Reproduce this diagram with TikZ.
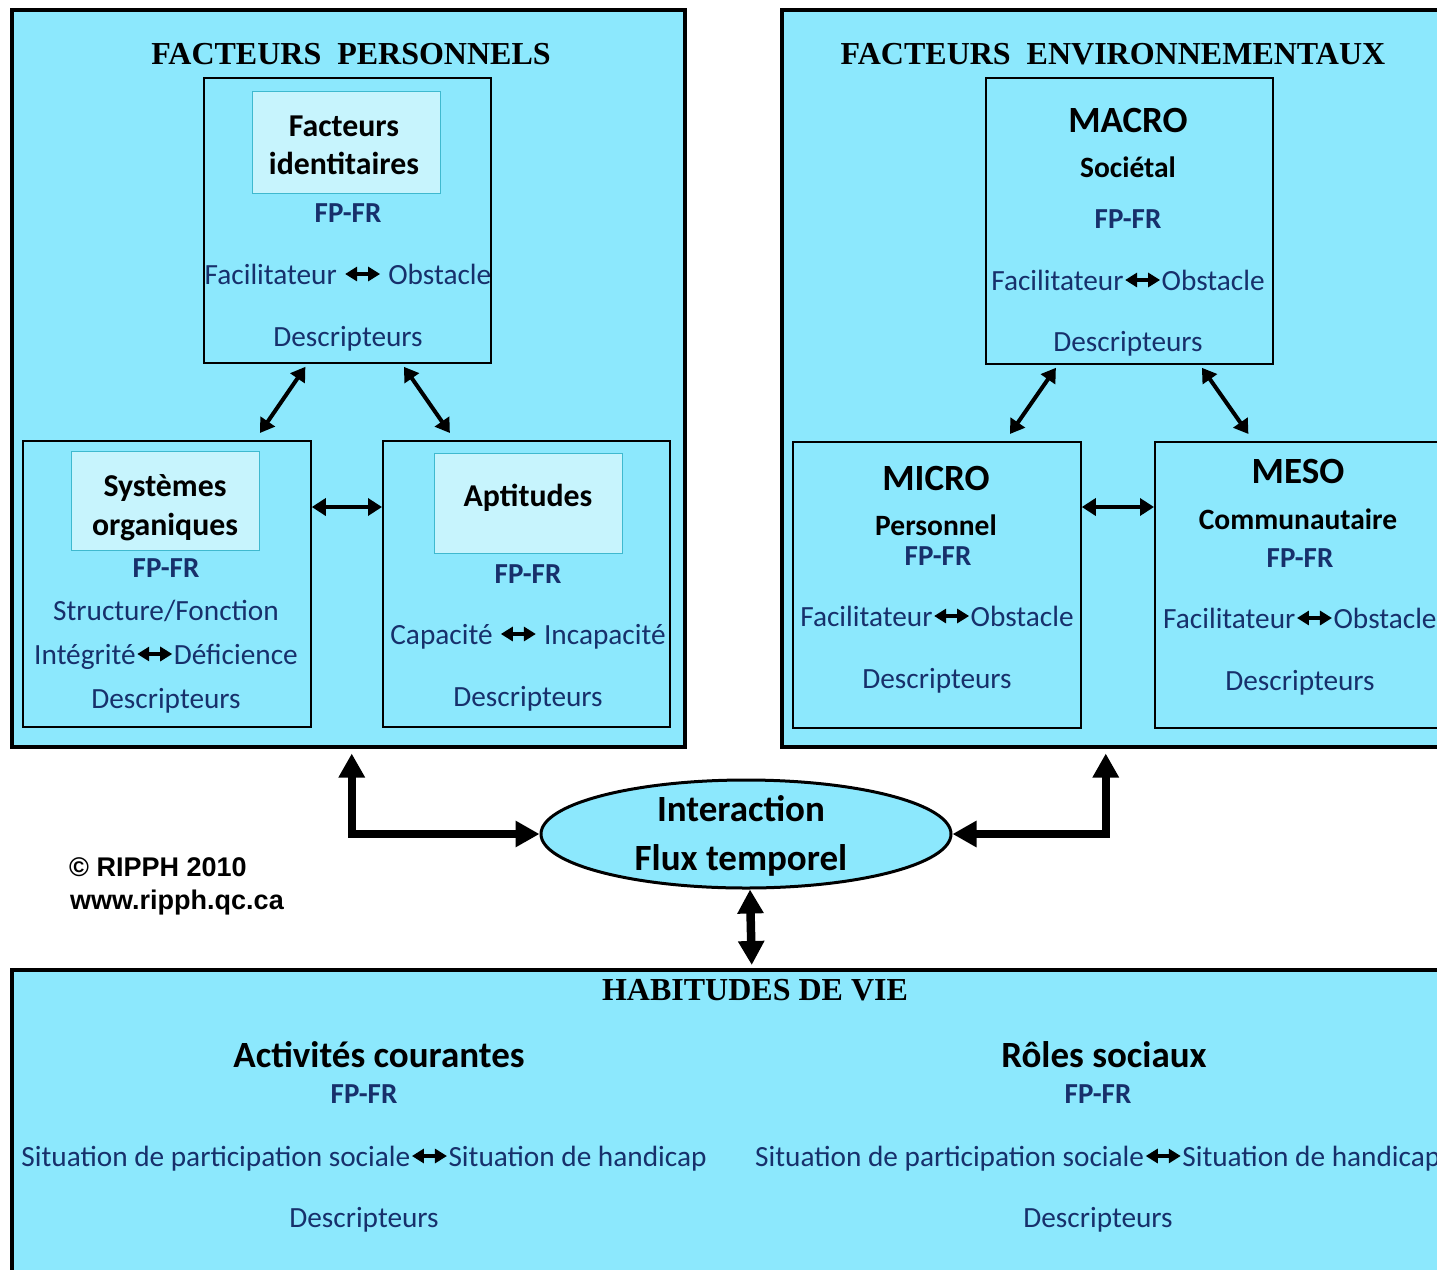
\documentclass[tikz,border=0pt]{standalone}
\usepackage{fontspec}
\setmainfont{Carlito}
\newfontfamily\timesf{Liberation Serif}
\newfontfamily\arialf{Liberation Sans}
\usetikzlibrary{arrows.meta,shapes.geometric,calc}
\definecolor{cyanbg}{HTML}{8CE8FD}
\definecolor{lightbg}{HTML}{C7F4FD}
\definecolor{navy}{HTML}{17306B}
\definecolor{tealb}{HTML}{3FB9CF}
\newcommand{\lra}{\tikz[baseline=0pt]\draw[draw=black,fill=black,line width=3.2pt,{Triangle[length=12pt,width=14pt]}-{Triangle[length=12pt,width=14pt]}] (0pt,10pt) -- (35pt,10pt);}
\begin{document}
\begin{tikzpicture}[x=1pt,y=-1pt,
  outerbox/.style={draw=black,line width=3.5pt,fill=cyanbg,anchor=north west,inner sep=0,minimum width=#1},
  innerbox/.style={draw=black,line width=1.8pt,fill=cyanbg,anchor=north west,inner sep=0},
  lightbox/.style={draw=tealb,line width=1.3pt,fill=lightbg,anchor=north west,inner sep=0},
  txt/.style={anchor=base,inner sep=0,text=navy,font=\fontsize{29.3}{31}\selectfont},
  bt/.style={anchor=base,inner sep=0,text=black,font=\fontsize{31.8}{33}\selectfont\bfseries},
  bts/.style={anchor=base,inner sep=0,text=black,font=\fontsize{29.5}{31}\selectfont\bfseries},
  fpt/.style={anchor=base,inner sep=0,text=navy,font=\fontsize{29}{31}\selectfont\bfseries},
  bigt/.style={anchor=base,inner sep=0,text=black,font=\fontsize{37}{39}\selectfont\bfseries},
  ttl/.style={anchor=base,inner sep=0,text=black,font=\fontsize{32}{34}\selectfont\timesf\bfseries},
  cpy/.style={anchor=base west,inner sep=0,text=black,font=\fontsize{27}{29}\selectfont\arialf\bfseries},
  dbl/.style={line width=4pt,{Triangle[length=14pt,width=17pt]}-{Triangle[length=14pt,width=17pt]}},
  thick arr/.style={line width=8.5pt,{Triangle[length=24pt,width=25pt]}-{Triangle[length=24pt,width=25pt]}}
]
\useasboundingbox (0,0) rectangle (1437,1269);
\clip (0,0) rectangle (1437,1269);

% outer boxes
\node[outerbox=673,minimum height=737] (fp) at (10,8) {};
\node[outerbox=680,minimum height=737] (fe) at (780,8) {};
\node[outerbox=1450,minimum height=330] (hv) at (10,968) {};

% inner boxes - personal
\node[innerbox,minimum width=287,minimum height=285] (idt) at (203,77) {};
\node[innerbox,minimum width=288,minimum height=286] (sys) at (22,440) {};
\node[innerbox,minimum width=287,minimum height=286] (apt) at (382,440) {};
\node[lightbox,minimum width=188,minimum height=102] (l1) at (252,91) {};
\node[lightbox,minimum width=188,minimum height=99] (l2) at (71,451) {};
\node[lightbox,minimum width=188,minimum height=100] (l3) at (434,453) {};

% inner boxes - environment
\node[innerbox,minimum width=287,minimum height=286] (macro) at (985,77) {};
\node[innerbox,minimum width=288,minimum height=286] (micro) at (792,441) {};
\node[innerbox,minimum width=288,minimum height=286] (meso) at (1154,441) {};

% titles
\node[ttl] (t1) at (351,64) {FACTEURS\ \ PERSONNELS};
\node[ttl] (t2) at (1113,64) {FACTEURS\ \ ENVIRONNEMENTAUX};

% identity box text
\node[bt] (a1) at (344,136) {Facteurs};
\node[bt] (a2) at (344,174) {identitaires};
\node[fpt] (a3) at (348,222) {FP-FR};
\node[txt] (a4) at (348,284) {Facilitateur \lra\ Obstacle};
\node[txt] (a5) at (348,346) {Descripteurs};

% systems text
\node[bt] (b1) at (165,496) {Systèmes};
\node[bt] (b2) at (165,535) {organiques};
\node[fpt] (b3) at (166,577) {FP-FR};
\node[txt] (b4) at (166,620) {Structure/Fonction};
\node[txt] (b5) at (166,664) {Intégrité\lra Déficience};
\node[txt] (b6) at (166,708) {Descripteurs};

% aptitudes text
\node[bt] (c1) at (528,506) {Aptitudes};
\node[fpt] (c2) at (528,583) {FP-FR};
\node[txt] (c3) at (528,644) {Capacité \lra\ Incapacité};
\node[txt] (c4) at (528,706) {Descripteurs};

% macro text
\node[bigt] (d1) at (1128,132) {MACRO};
\node[bts] (d2) at (1128,177) {Sociétal};
\node[fpt] (d3) at (1128,228) {FP-FR};
\node[txt] (d4) at (1128,290) {Facilitateur\lra Obstacle};
\node[txt] (d5) at (1128,351) {Descripteurs};

% micro text
\node[bigt] (e1) at (936,490) {MICRO};
\node[bts] (e2) at (936,535) {Personnel};
\node[fpt] (e3) at (938,565) {FP-FR};
\node[txt] (e4) at (937,626) {Facilitateur\lra Obstacle};
\node[txt] (e5) at (937,688) {Descripteurs};

% meso text
\node[bigt] (f1) at (1298,483) {MESO};
\node[bts] (f2) at (1298,529) {Communautaire};
\node[fpt] (f3) at (1300,567) {FP-FR};
\node[txt,anchor=base west] (f4) at (1163,628) {Facilitateur\lra Obstacle};
\node[txt] (f5) at (1300,690) {Descripteurs};

% ellipse
\node[ellipse,draw=black,line width=3pt,fill=cyanbg,minimum width=410,minimum height=108,inner sep=0] (ell) at (746,834) {};
\node[bigt] (g1) at (741,821) {Interaction};
\node[bigt] (g2) at (741,870) {Flux temporel};

% copyright
\node[cpy] (h1) at (69,876) {© RIPPH 2010};
\node[cpy] (h2) at (70,909) {www.ripph.qc.ca};

% habitudes de vie
\node[ttl] (i0) at (755,1000) {HABITUDES DE VIE};
\node[bigt] (i1) at (379,1067) {Activités courantes};
\node[fpt] (i2) at (364,1103) {FP-FR};
\node[txt] (i3) at (364,1166) {Situation de participation sociale\lra Situation de handicap};
\node[txt] (i4) at (364,1227) {Descripteurs};
\node[bigt] (j1) at (1104,1067) {Rôles sociaux};
\node[fpt] (j2) at (1098,1103) {FP-FR};
\node[txt,anchor=base west] (j3) at (755,1166) {Situation de participation sociale\lra Situation de handicap};
\node[txt] (j4) at (1098,1227) {Descripteurs};

% thin double arrows
\draw[dbl] ($(idt.south)+(-42,3)$) -- ($(sys.north)+(93,-7)$);
\draw[dbl] ($(idt.south)+(56.5,3)$) -- ($(apt.north)+(-76.5,-7)$);
\draw[dbl] ($(sys.north east)+(0,67)$) -- ($(apt.north west)+(0,67)$);
\draw[dbl] ($(macro.south)+(-73.5,3)$) -- ($(micro.north)+(73,-7)$);
\draw[dbl] ($(macro.south)+(72.5,3)$) -- ($(meso.north)+(-50.5,-7)$);
\draw[dbl] ($(micro.north east)+(0,66)$) -- ($(meso.north west)+(0,66)$);

% thick arrows
\draw[thick arr] ($(fp.south)+(3.5,5)$) |- (ell.west);
\draw[thick arr] ($(fe.south)+(-16,5)$) |- (ell.east);
\draw[thick arr] ($(ell.south)+(4,0)$) -- ($(hv.north)+(15,-3)$);
\end{tikzpicture}
\end{document}
